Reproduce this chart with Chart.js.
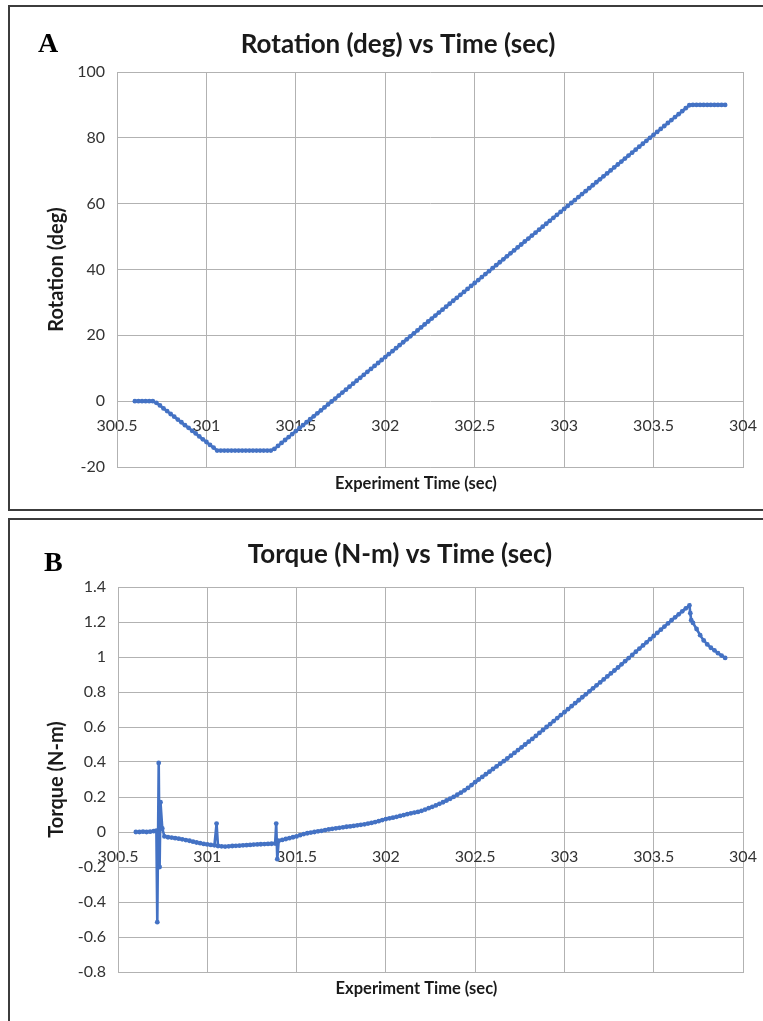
<!DOCTYPE html>
<html>
<head>
<meta charset="utf-8">
<script src="https://cdn.jsdelivr.net/npm/chart.js@4/dist/chart.umd.min.js"></script>
<style>
  html, body { margin: 0; padding: 0; background: #fff; width: 763px; height: 1021px; overflow: hidden; }
  .panel { position: absolute; left: 8px; width: 800px; border: 2px solid #3c3c3c; }
  #panelA { top: 5px; height: 502px; }
  #panelB { top: 518px; height: 520px; }
  .tag { position: absolute; font-family: "Liberation Serif", serif; font-weight: bold; font-size: 28px; line-height: 28px; color: #000; }
  canvas { position: absolute; left: 0; }
</style>
</head>
<body>
<div class="panel" id="panelA"></div>
<div class="panel" id="panelB"></div>
<canvas id="chartA" width="763" height="512" style="top:0px"></canvas>
<canvas id="chartB" width="763" height="507" style="top:514px"></canvas>
<div class="tag" style="left:38px; top:29px">A</div>
<div class="tag" style="left:44px; top:548px">B</div>
<script>
// Axis tick values
const timeTicks = [300.5, 301, 301.5, 302, 302.5, 303, 303.5, 304];
const rotationTicks = [-20, 0, 20, 40, 60, 80, 100];
const torqueTicks = [-0.8, -0.6, -0.4, -0.2, 0, 0.2, 0.4, 0.6, 0.8, 1, 1.2, 1.4];

// Rotation record: time (sec) and angle (deg)
const rotationTime = [
  300.60, 300.62, 300.64, 300.66, 300.68, 300.70,
  300.72, 300.74, 300.76, 300.78, 300.80, 300.82, 300.84, 300.86, 300.88, 300.90,
  300.92, 300.94, 300.96, 300.98, 301.00, 301.02, 301.04, 301.06,
  301.08, 301.10, 301.12, 301.14, 301.16, 301.18, 301.20, 301.22, 301.24, 301.26,
  301.28, 301.30, 301.32, 301.34, 301.36,
  301.38,
  301.40, 301.42, 301.44, 301.46, 301.48, 301.50, 301.52, 301.54, 301.56, 301.58,
  301.60, 301.62, 301.64, 301.66, 301.68, 301.70, 301.72, 301.74, 301.76, 301.78,
  301.80, 301.82, 301.84, 301.86, 301.88, 301.90, 301.92, 301.94, 301.96, 301.98,
  302.00, 302.02, 302.04, 302.06, 302.08, 302.10, 302.12, 302.14, 302.16, 302.18,
  302.20, 302.22, 302.24, 302.26, 302.28, 302.30, 302.32, 302.34, 302.36, 302.38,
  302.40, 302.42, 302.44, 302.46, 302.48, 302.50, 302.52, 302.54, 302.56, 302.58,
  302.60, 302.62, 302.64, 302.66, 302.68, 302.70, 302.72, 302.74, 302.76, 302.78,
  302.80, 302.82, 302.84, 302.86, 302.88, 302.90, 302.92, 302.94, 302.96, 302.98,
  303.00, 303.02, 303.04, 303.06, 303.08, 303.10, 303.12, 303.14, 303.16, 303.18,
  303.20, 303.22, 303.24, 303.26, 303.28, 303.30, 303.32, 303.34, 303.36, 303.38,
  303.40, 303.42, 303.44, 303.46, 303.48, 303.50, 303.52, 303.54, 303.56, 303.58,
  303.60, 303.62, 303.64, 303.66, 303.68, 303.70,
  303.72, 303.74, 303.76, 303.78, 303.80, 303.82, 303.84, 303.86, 303.88, 303.90
];
const rotationDeg = [
  0, 0, 0, 0, 0, 0,
  -0.5, -1.3, -2.2, -3.0, -3.9, -4.7, -5.6, -6.4, -7.3, -8.1,
  -9.0, -9.8, -10.7, -11.6, -12.4, -13.3, -14.1, -15.0,
  -15.0, -15.0, -15.0, -15.0, -15.0, -15.0, -15.0, -15.0, -15.0, -15.0,
  -15.0, -15.0, -15.0, -15.0, -15.0,
  -14.5,
  -13.6, -12.7, -11.8, -10.9, -10.0, -9.1, -8.2, -7.3, -6.4, -5.5,
  -4.6, -3.7, -2.8, -1.9, -1.0, -0.1, 0.8, 1.7, 2.6, 3.5,
  4.4, 5.3, 6.2, 7.1, 8.0, 8.9, 9.8, 10.7, 11.6, 12.5,
  13.4, 14.3, 15.2, 16.1, 17.0, 17.9, 18.8, 19.7, 20.6, 21.5,
  22.4, 23.3, 24.2, 25.1, 26.0, 26.9, 27.8, 28.7, 29.6, 30.5,
  31.4, 32.3, 33.2, 34.1, 35.0, 35.9, 36.8, 37.7, 38.6, 39.5,
  40.4, 41.3, 42.2, 43.1, 44.0, 44.9, 45.8, 46.7, 47.6, 48.5,
  49.4, 50.3, 51.2, 52.1, 53.0, 53.9, 54.8, 55.7, 56.6, 57.5,
  58.4, 59.3, 60.2, 61.1, 62.0, 62.9, 63.8, 64.7, 65.6, 66.5,
  67.4, 68.3, 69.2, 70.1, 71.0, 71.9, 72.8, 73.7, 74.6, 75.5,
  76.4, 77.3, 78.2, 79.1, 80.0, 80.9, 81.8, 82.7, 83.6, 84.5,
  85.4, 86.3, 87.2, 88.1, 89.0, 89.9,
  90.0, 90.0, 90.0, 90.0, 90.0, 90.0, 90.0, 90.0, 90.0, 90.0
];

// Torque record: time (sec) and torque (N-m)
const torqueTime = [
  300.60, 300.62, 300.64, 300.66, 300.68, 300.70, 300.715,
  300.720, 300.728, 300.733, 300.738, 300.748, 300.760,
  300.78, 300.80, 300.82, 300.84, 300.86, 300.88, 300.90, 300.92, 300.94, 300.96,
  300.98, 301.00, 301.02, 301.04, 301.052, 301.06, 301.08, 301.10, 301.12, 301.14,
  301.16, 301.18, 301.20, 301.22, 301.24, 301.26, 301.28, 301.30, 301.32, 301.34,
  301.36, 301.38, 301.386, 301.392,
  301.40, 301.42, 301.44, 301.46, 301.48, 301.50, 301.52, 301.54, 301.56, 301.58,
  301.60, 301.62, 301.64, 301.66, 301.68, 301.70, 301.72, 301.74, 301.76, 301.78,
  301.80, 301.82, 301.84, 301.86, 301.88, 301.90, 301.92, 301.94, 301.96, 301.98,
  302.00, 302.02, 302.04, 302.06, 302.08, 302.10, 302.12, 302.14, 302.16, 302.18,
  302.20, 302.22, 302.24, 302.26, 302.28, 302.30, 302.32, 302.34, 302.36, 302.38,
  302.40, 302.42, 302.44, 302.46, 302.48, 302.50, 302.52, 302.54, 302.56, 302.58,
  302.60, 302.62, 302.64, 302.66, 302.68, 302.70, 302.72, 302.74, 302.76, 302.78,
  302.80, 302.82, 302.84, 302.86, 302.88, 302.90, 302.92, 302.94, 302.96, 302.98,
  303.00, 303.02, 303.04, 303.06, 303.08, 303.10, 303.12, 303.14, 303.16, 303.18,
  303.20, 303.22, 303.24, 303.26, 303.28, 303.30, 303.32, 303.34, 303.36, 303.38,
  303.40, 303.42, 303.44, 303.46, 303.48, 303.50, 303.52, 303.54, 303.56, 303.58,
  303.60, 303.62, 303.64, 303.66, 303.68, 303.70,
  303.705, 303.71, 303.72, 303.74, 303.76, 303.78, 303.80, 303.82, 303.84, 303.86,
  303.88, 303.90
];
const torqueNm = [
  0.000, 0.000, 0.002, 0.000, 0.002, 0.005, 0.008,
  -0.515, 0.395, -0.200, 0.170, 0.020, -0.025,
  -0.030, -0.032, -0.035, -0.038, -0.042, -0.046, -0.050, -0.055, -0.060, -0.064,
  -0.068, -0.071, -0.074, -0.076, 0.048, -0.080, -0.082, -0.083, -0.082, -0.080,
  -0.079, -0.078, -0.076, -0.075, -0.074, -0.072, -0.071, -0.070, -0.069, -0.068,
  -0.067, -0.066, 0.048, -0.155,
  -0.050, -0.045, -0.040, -0.035, -0.030, -0.025, -0.018, -0.012, -0.007, -0.003,
  0.000, 0.004, 0.007, 0.011, 0.015, 0.018, 0.021, 0.024, 0.027, 0.030,
  0.032, 0.035, 0.038, 0.041, 0.044, 0.048, 0.052, 0.057, 0.062, 0.068,
  0.074, 0.078, 0.082, 0.087, 0.092, 0.097, 0.102, 0.107, 0.111, 0.115,
  0.121, 0.128, 0.136, 0.144, 0.152, 0.161, 0.170, 0.180, 0.190, 0.201,
  0.213, 0.225, 0.238, 0.252, 0.268, 0.285, 0.300, 0.315, 0.330, 0.345,
  0.360, 0.375, 0.390, 0.405, 0.420, 0.436, 0.452, 0.468, 0.484, 0.500,
  0.516, 0.532, 0.549, 0.566, 0.583, 0.600, 0.617, 0.634, 0.651, 0.668,
  0.685, 0.702, 0.719, 0.736, 0.753, 0.770, 0.787, 0.804, 0.821, 0.838,
  0.855, 0.872, 0.889, 0.906, 0.923, 0.940, 0.958, 0.976, 0.994, 1.012,
  1.030, 1.048, 1.066, 1.084, 1.102, 1.120, 1.138, 1.156, 1.174, 1.192,
  1.210, 1.227, 1.244, 1.261, 1.278, 1.295,
  1.250, 1.210, 1.195, 1.160, 1.125, 1.095, 1.072, 1.053, 1.038, 1.022,
  1.008, 0.995
];

const SERIES_BLUE = '#4472C4';
const GRID_GREY = '#b2b2b2';
const TICK_COLOR = '#333333';
const TITLE_COLOR = '#1a1a1a';
const FONT = 'Lato, "Open Sans", sans-serif';
// trailing no-break spaces nudge the centred time-axis caption to the left
const TIME_CAPTION = 'Experiment Time (sec)' + '\u00a0'.repeat(7);

Chart.defaults.font.family = FONT;

const fmt = v => String(+v.toFixed(2));
const useTicks = list => scale => { scale.ticks = list.map(v => ({ value: v })); };

function buildChart(canvasId, o) {
  const points = o.xs.map((x, i) => ({ x: x, y: o.ys[i] }));
  return new Chart(document.getElementById(canvasId), {
    type: 'scatter',
    data: {
      datasets: [{
        data: points,
        showLine: true,
        borderColor: SERIES_BLUE,
        backgroundColor: SERIES_BLUE,
        borderWidth: 2.6,
        pointRadius: 2.4,
        pointHoverRadius: 2.4,
        pointBorderWidth: 0,
        tension: 0
      }]
    },
    options: {
      responsive: false,
      animation: false,
      events: [],
      layout: { padding: { left: o.padLeft, right: 20, top: 0, bottom: 0 } },
      plugins: {
        legend: { display: false },
        tooltip: { enabled: false },
        title: {
          display: true,
          text: o.title,
          color: TITLE_COLOR,
          font: { family: FONT, size: 26, weight: 'bold' },
          padding: { top: o.titleTop, bottom: o.titleBottom }
        }
      },
      scales: {
        x: {
          type: 'linear',
          position: 'bottom',
          min: 300.5,
          max: 304,
          afterBuildTicks: useTicks(timeTicks),
          ticks: { display: false },
          grid: { color: GRID_GREY, lineWidth: 1, drawTicks: false },
          border: { color: GRID_GREY, width: 1 },
          title: {
            display: true,
            text: TIME_CAPTION,
            color: TITLE_COLOR,
            font: { family: FONT, size: 16.5, weight: 'bold' },
            padding: { top: 0, bottom: o.xTitleBottom }
          },
          afterFit: s => { s.height = o.xAxisHeight; s.paddingLeft = 0; s.paddingRight = 0; }
        },
        xLabels: {
          type: 'linear',
          axis: 'x',
          position: { y: 0 },
          min: 300.5,
          max: 304,
          afterBuildTicks: useTicks(timeTicks),
          ticks: {
            padding: 15,
            color: TICK_COLOR,
            font: { family: FONT, size: 16 },
            maxRotation: 0,
            autoSkip: false,
            callback: fmt
          },
          grid: { display: false, drawTicks: false },
          border: { display: false },
          afterFit: s => { s.paddingLeft = 0; s.paddingRight = 0; }
        },
        y: {
          type: 'linear',
          position: 'left',
          min: o.yMin,
          max: o.yMax,
          afterBuildTicks: useTicks(o.yTicks),
          ticks: {
            padding: 12,
            color: TICK_COLOR,
            font: { family: FONT, size: 16 },
            callback: fmt
          },
          grid: { color: GRID_GREY, lineWidth: 1, drawTicks: false },
          border: { color: GRID_GREY, width: 1 },
          title: {
            display: true,
            text: o.yTitle,
            color: TITLE_COLOR,
            font: { family: FONT, size: 20, weight: 'bold' },
            padding: { top: o.yTitleTop, bottom: 0 }
          },
          afterFit: s => { s.width = o.yAxisWidth; s.paddingTop = 0; s.paddingBottom = 0; }
        }
      }
    }
  });
}

buildChart('chartA', {
  xs: rotationTime, ys: rotationDeg,
  title: 'Rotation (deg) vs Time (sec)',
  yTitle: 'Rotation (deg)',
  yMin: -20, yMax: 100, yTicks: rotationTicks,
  padLeft: 53, yAxisWidth: 64, yTitleTop: -8,
  titleTop: 29.4, titleBottom: 11.4,
  xAxisHeight: 45, xTitleBottom: 18.1
});

buildChart('chartB', {
  xs: torqueTime, ys: torqueNm,
  title: 'Torque (N-m) vs Time (sec)',
  yTitle: 'Torque (N-m)',
  yMin: -0.8, yMax: 1.4, yTicks: torqueTicks,
  padLeft: 57, yAxisWidth: 61, yTitleTop: -12,
  titleTop: 25.4, titleBottom: 16.4,
  xAxisHeight: 49, xTitleBottom: 22.1
});
</script>
</body>
</html>
